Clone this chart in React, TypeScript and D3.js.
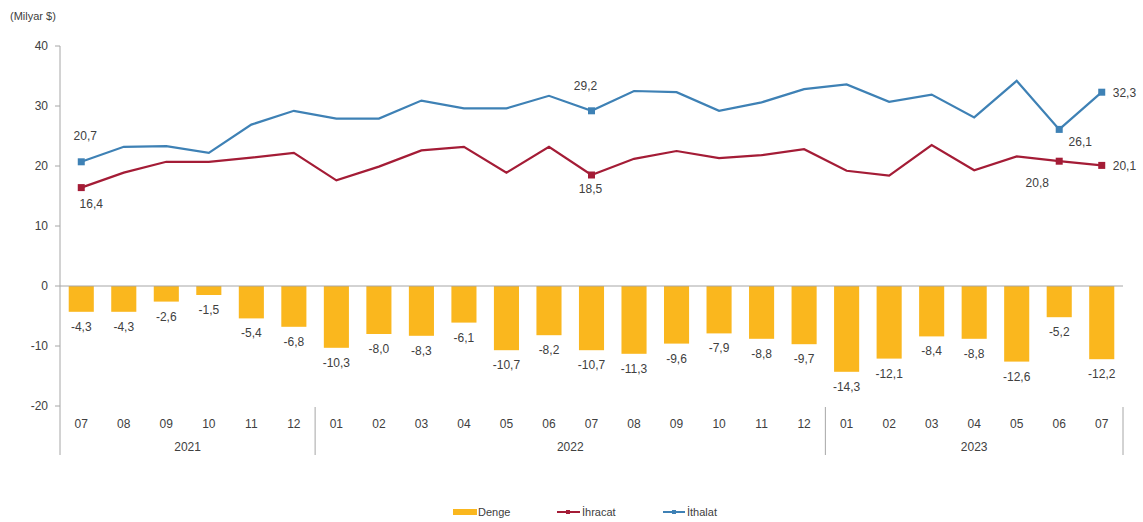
import React from 'react';
import * as d3 from 'd3';

const months = ['07', '08', '09', '10', '11', '12', '01', '02', '03', '04', '05', '06', '07', '08', '09', '10', '11', '12', '01', '02', '03', '04', '05', '06', '07'];
const years = [
  { label: '2021', from: 0, to: 6 },
  { label: '2022', from: 6, to: 18 },
  { label: '2023', from: 18, to: 25 },
];
const denge = [-4.3, -4.3, -2.6, -1.5, -5.4, -6.8, -10.3, -8.0, -8.3, -6.1, -10.7, -8.2, -10.7, -11.3, -9.6, -7.9, -8.8, -9.7, -14.3, -12.1, -8.4, -8.8, -12.6, -5.2, -12.2];
const ihracat = [16.4, 18.9, 20.7, 20.7, 21.4, 22.2, 17.6, 19.9, 22.6, 23.2, 18.9, 23.2, 18.5, 21.2, 22.5, 21.3, 21.8, 22.8, 19.2, 18.4, 23.5, 19.3, 21.6, 20.8, 20.1];
const ithalat = [20.7, 23.2, 23.3, 22.2, 26.9, 29.2, 27.9, 27.9, 30.9, 29.6, 29.6, 31.7, 29.2, 32.5, 32.3, 29.2, 30.6, 32.8, 33.6, 30.7, 31.9, 28.1, 34.2, 26.1, 32.3];
const yTicks = [40, 30, 20, 10, 0, -10, -20];

// index -> label offset for the few points that carry a value label
const ithalatLabels = [
  { i: 0, dx: 4, dy: -22, anchor: 'middle' },
  { i: 12, dx: -6, dy: -21, anchor: 'middle' },
  { i: 23, dx: 21, dy: 17, anchor: 'middle' },
  { i: 24, dx: 11, dy: 5, anchor: 'start' },
];
const ihracatLabels = [
  { i: 0, dx: 10, dy: 20, anchor: 'middle' },
  { i: 12, dx: -1, dy: 18, anchor: 'middle' },
  { i: 23, dx: -22, dy: 26, anchor: 'middle' },
  { i: 24, dx: 11, dy: 5, anchor: 'start' },
];

const BAR = '#FAB71E';
const RED = '#A41C36';
const BLUE = '#3E81B5';
const AXIS = '#A6A6A6';
const TEXT = '#404040';
const FONT = '"Liberation Sans", Arial, sans-serif';

const fmt = (v: number) => v.toFixed(1).replace('.', ',');

export default function App() {
  const width = 1143;
  const height = 522;
  const x = d3.scaleBand<number>().domain(d3.range(months.length)).range([60, 1123]).paddingInner(0.41).paddingOuter(0.205);
  const y = d3.scaleLinear().domain([-20, 40]).range([406, 46]);
  const cx = (i: number) => (x(i) ?? 0) + x.bandwidth() / 2;
  const step = x.step();
  const left = 60;
  const edge = (k: number) => left + k * step;

  const line = d3.line<number>().x((_, i) => cx(i)).y(d => y(d));

  return (
    <div style={{ position: 'absolute', left: 0, top: 0 }}>
      <svg width={width} height={height} style={{ display: 'block', fontFamily: FONT }}>
        <rect width={width} height={height} fill="#fff" />
        <text x={10} y={20} fontSize={11} fill={TEXT}>(Milyar $)</text>

        {/* y axis */}
        <line x1={left} x2={left} y1={y(40)} y2={455} stroke={AXIS} />
        {yTicks.map(t => (
          <g key={t}>
            <line x1={55} x2={left} y1={y(t)} y2={y(t)} stroke={AXIS} />
            <text x={48} y={y(t) + 4} textAnchor="end" fontSize={12} fill={TEXT}>{t}</text>
          </g>
        ))}

        {/* bars */}
        {denge.map((v, i) => (
          <rect key={i} x={x(i)} y={y(0)} width={x.bandwidth()} height={y(v) - y(0)} fill={BAR} />
        ))}
        {denge.map((v, i) => (
          <text key={'l' + i} x={cx(i)} y={y(v) + 19} textAnchor="middle" fontSize={12} fill={TEXT}>{fmt(v)}</text>
        ))}

        {/* zero line */}
        <line x1={left} x2={1123} y1={y(0)} y2={y(0)} stroke={AXIS} />

        {/* category axis */}
        {months.map((m, i) => (
          <text key={'m' + i} x={cx(i)} y={428} textAnchor="middle" fontSize={12} fill={TEXT}>{m}</text>
        ))}
        {years.map(yr => (
          <g key={yr.label}>
            <line x1={edge(yr.to)} x2={edge(yr.to)} y1={407} y2={455} stroke={AXIS} />
            <text x={(edge(yr.from) + edge(yr.to)) / 2} y={451} textAnchor="middle" fontSize={12} fill={TEXT}>{yr.label}</text>
          </g>
        ))}

        {/* lines */}
        <path d={line(ithalat) ?? ''} fill="none" stroke={BLUE} strokeWidth={2.2} />
        <path d={line(ihracat) ?? ''} fill="none" stroke={RED} strokeWidth={2.2} />
        {ithalatLabels.map(l => (
          <g key={'b' + l.i}>
            <rect x={cx(l.i) - 3.5} y={y(ithalat[l.i]) - 3.5} width={7} height={7} fill={BLUE} />
            <text x={cx(l.i) + l.dx} y={y(ithalat[l.i]) + l.dy} textAnchor={l.anchor} fontSize={12} fill={TEXT}>{fmt(ithalat[l.i])}</text>
          </g>
        ))}
        {ihracatLabels.map(l => (
          <g key={'r' + l.i}>
            <rect x={cx(l.i) - 3.5} y={y(ihracat[l.i]) - 3.5} width={7} height={7} fill={RED} />
            <text x={cx(l.i) + l.dx} y={y(ihracat[l.i]) + l.dy} textAnchor={l.anchor} fontSize={12} fill={TEXT}>{fmt(ihracat[l.i])}</text>
          </g>
        ))}

        {/* legend */}
        <g fontSize={11} fill={TEXT}>
          <rect x={453} y={509} width={24} height={6} fill={BAR} />
          <text x={478} y={516}>Denge</text>
          <line x1={557} x2={580} y1={512} y2={512} stroke={RED} strokeWidth={2} />
          <rect x={566} y={510} width={4} height={4} fill={RED} />
          <text x={582} y={516}>İhracat</text>
          <line x1={663} x2={685} y1={512} y2={512} stroke={BLUE} strokeWidth={2} />
          <rect x={672} y={510} width={4} height={4} fill={BLUE} />
          <text x={687} y={516}>İthalat</text>
        </g>
      </svg>
    </div>
  );
}
